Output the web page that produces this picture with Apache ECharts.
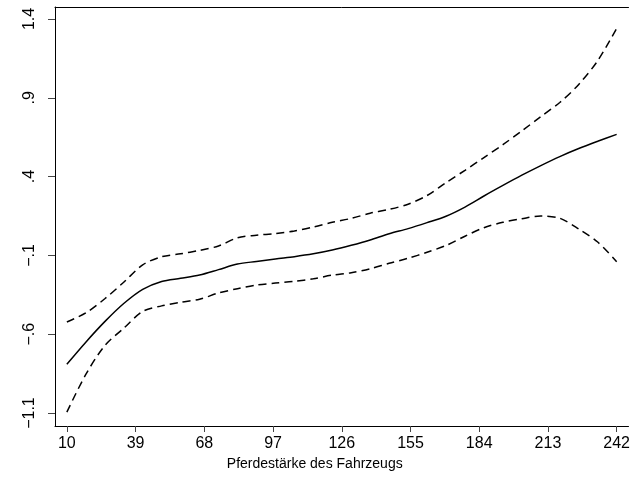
<!DOCTYPE html>
<html>
<head>
<meta charset="utf-8">
<script src="https://cdn.jsdelivr.net/npm/echarts@6/dist/echarts.min.js"></script>
<style>
  html, body { margin: 0; padding: 0; background: #fff; }
  #chart { width: 633px; height: 477px; }
</style>
</head>
<body>
<div id="chart"></div>
<script>
// horsepower grid
const hp = [10, 18, 26, 34, 42, 50, 58, 66, 74, 82, 90, 98, 106, 114, 122,
  130, 138, 146, 154, 162, 170, 178, 186, 194, 202, 210, 218, 226, 234, 242];

// fitted effect
const fit = [-0.790, -0.650, -0.520, -0.405, -0.315, -0.265, -0.245, -0.224, -0.190, -0.155,
  -0.138, -0.122, -0.108, -0.090, -0.066, -0.036, -0.002, 0.038, 0.070, 0.108,
  0.149, 0.207, 0.277, 0.344, 0.409, 0.470, 0.527, 0.578, 0.624, 0.668];

// confidence bands
const upper = [-0.522, -0.465, -0.375, -0.270, -0.160, -0.108, -0.090, -0.068, -0.040, 0.012,
  0.028, 0.039, 0.055, 0.080, 0.110, 0.135, 0.168, 0.192, 0.225, 0.280,
  0.362, 0.440, 0.521, 0.603, 0.690, 0.781, 0.870, 0.985, 1.135, 1.340];
const lower = [-1.094, -0.855, -0.672, -0.562, -0.455, -0.420, -0.397, -0.378, -0.338, -0.311,
  -0.288, -0.275, -0.264, -0.248, -0.225, -0.210, -0.185, -0.150, -0.118, -0.080,
  -0.037, 0.022, 0.076, 0.110, 0.133, 0.150, 0.136, 0.068, -0.015, -0.140];

// axis ticks
const xTicks = [10, 39, 68, 97, 126, 155, 184, 213, 242];
const yTicks = [-1.1, -0.6, -0.1, 0.4, 0.9, 1.4];
const yTickLabels = ['\u22121.1', '\u2212.6', '\u2212.1', '.4', '.9', '1.4'];

const pairs = arr => hp.map((x, i) => [x, arr[i]]);
const font = '"Liberation Sans", Arial, sans-serif';

const chart = echarts.init(document.getElementById('chart'));
chart.setOption({
  animation: false,
  grid: { left: 55, right: 0, top: 7, bottom: 51 },
  xAxis: [{
    type: 'value',
    min: 5,
    max: 247,
    splitLine: { show: false },
    axisLine: { onZero: false, lineStyle: { color: '#000', width: 1 } },
    axisTick: { customValues: xTicks, length: 6, lineStyle: { color: '#444' } },
    axisLabel: {
      customValues: xTicks,
      margin: 10,
      color: '#000',
      fontFamily: font,
      fontSize: 16
    },
    name: 'Pferdestärke des Fahrzeugs',
    nameLocation: 'middle',
    nameGap: 28,
    nameTextStyle: { color: '#000', fontFamily: font, fontSize: 14, padding: [0, 54, 0, 0] }
  }, {
    type: 'value',
    position: 'top',
    min: 5,
    max: 247,
    splitLine: { show: false },
    axisLine: { show: true, onZero: false, lineStyle: { color: '#000', width: 1 } },
    axisTick: { show: false },
    axisLabel: { show: false }
  }],
  yAxis: {
    type: 'value',
    min: -1.182,
    max: 1.476,
    splitLine: { show: false },
    axisLine: { show: true, onZero: false, lineStyle: { color: '#000', width: 1 } },
    axisTick: { show: true, customValues: yTicks, length: 7, lineStyle: { color: '#444' } },
    axisLabel: {
      customValues: yTicks,
      rotate: 90,
      margin: 17,
      color: '#000',
      fontFamily: font,
      fontSize: 16,
      formatter: v => {
        const i = yTicks.findIndex(t => Math.abs(t - v) < 1e-6);
        return i >= 0 ? yTickLabels[i] : '';
      }
    }
  },
  series: [
    {
      type: 'line', data: pairs(fit), smooth: 0.3, symbol: 'none',
      lineStyle: { color: '#000', width: 1.5 }
    },
    {
      type: 'line', data: pairs(upper), smooth: 0.3, symbol: 'none',
      lineStyle: { color: '#000', width: 1.5, type: [8, 5] }
    },
    {
      type: 'line', data: pairs(lower), smooth: 0.3, symbol: 'none',
      lineStyle: { color: '#000', width: 1.5, type: [8, 5] }
    }
  ]
});
</script>
</body>
</html>
